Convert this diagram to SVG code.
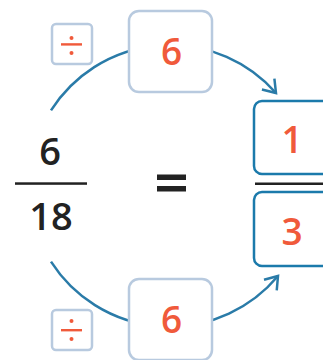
<svg xmlns="http://www.w3.org/2000/svg" width="323" height="360" viewBox="0 0 323 360">
<style>
.arc{fill:none;stroke:#2a7ba8;stroke-width:2.5}
.opbox{fill:#fff;stroke:#b8cadf;stroke-width:2.5}
.ansbox{fill:#fff;stroke:#1b7aab;stroke-width:2.5}
.red{fill:#f05a3b;font-family:"Open Sans","Noto Sans",sans-serif;font-size:37px;font-weight:600;text-anchor:middle}
.blk{fill:#222;font-family:"Open Sans","Noto Sans",sans-serif;font-size:38px;font-weight:600;text-anchor:middle}
.bar{fill:#222}
.divsym{fill:#f05a3b}
</style>
<defs>
<marker id="ah" markerUnits="userSpaceOnUse" markerWidth="30" markerHeight="30" refX="0" refY="0" viewBox="-15 -15 30 30" orient="auto" overflow="visible">
<path d="M-11.9,-8.3 L0,0 L-11.9,8.3" fill="none" stroke="#2a7ba8" stroke-width="2.5"/>
</marker>
</defs>
<g id="connectors">
<path class="arc" d="M51,110.4 A141,141 0 0 1 276,93" marker-end="url(#ah)"/>
<path class="arc" d="M51,261.6 A141,141 0 0 0 278,276" marker-end="url(#ah)"/>
</g>
<g id="left-fraction">
<text class="blk" x="50" y="165">6</text>
<rect class="bar" x="15" y="182.3" width="72" height="2.5"/>
<text class="blk" x="51" y="230">18</text>
</g>
<g id="equals">
<rect class="bar" x="157" y="174.5" width="29" height="5.5"/>
<rect class="bar" x="157" y="186" width="29" height="5.5"/>
</g>
<g id="top-div">
<rect class="opbox" x="52" y="24" width="40" height="40" rx="4"/>
<rect class="divsym" x="61" y="43.2" width="21" height="2.4"/>
<circle class="divsym" cx="71.5" cy="38" r="2"/>
<circle class="divsym" cx="71.5" cy="53" r="2"/>
</g>
<g id="top-six">
<rect class="opbox" x="129" y="11" width="83" height="81" rx="10"/>
<text class="red" x="171.5" y="64.5">6</text>
</g>
<g id="bottom-div">
<rect class="opbox" x="52" y="310" width="40" height="40" rx="4"/>
<rect class="divsym" x="61" y="329" width="21" height="2.4"/>
<circle class="divsym" cx="71.5" cy="321" r="2"/>
<circle class="divsym" cx="71.5" cy="339" r="2"/>
</g>
<g id="bottom-six">
<rect class="opbox" x="129" y="279" width="83" height="81" rx="10"/>
<text class="red" x="171.5" y="332.5">6</text>
</g>
<g id="answer-num">
<rect class="ansbox" x="254" y="101" width="90" height="73" rx="8"/>
<text class="red" x="292" y="153">1</text>
</g>
<rect id="answer-bar" class="bar" x="255" y="182.5" width="70" height="2.5"/>
<g id="answer-den">
<rect class="ansbox" x="254" y="192" width="90" height="74" rx="8"/>
<text class="red" x="292" y="244.5">3</text>
</g>
</svg>
